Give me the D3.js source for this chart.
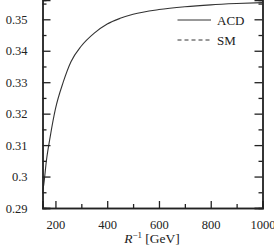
<!DOCTYPE html>
<html>
<head>
<meta charset="utf-8">
<title>ACD vs SM</title>
<script src="https://cdn.jsdelivr.net/npm/d3@7/dist/d3.min.js"></script>
<style type="text/css">
html, body { margin: 0; padding: 0; background: #fff; }
svg { display: block; font-family: "Liberation Serif", "DejaVu Serif", serif; }
</style>
</head>
<body>
<script type="text/javascript">
// data
var rInv = [150, 155, 165, 180, 200, 230, 260, 300, 350, 400, 450, 500, 600, 700, 800, 900, 1000];
var acd  = [0.2950, 0.2975, 0.3050, 0.3128, 0.3215, 0.3300, 0.3365, 0.3415, 0.3456, 0.3485, 0.3503, 0.3516, 0.3531, 0.3540, 0.3546, 0.3550, 0.3553];
var smValue = 0.3585;	// SM line sits above the visible frame
var xTicks = [200, 400, 600, 800, 1000];
var yTicks = [0.29, 0.30, 0.31, 0.32, 0.33, 0.34, 0.35];
var seriesNames = ["ACD", "SM"];

var width = 274, height = 248;
var mLeft = 42.5, mRight = 262.5, mTop = 0, mBottom = 208;

var svg = d3.select("body").append("svg")
	.attr("width", width)
	.attr("height", height);

var x = d3.scaleLinear().domain([150, 1000]).range([mLeft, mRight]);
var y = d3.scaleLinear().domain([0.29, 0.29 + 208 / 3145]).range([mBottom, mTop]);

svg.append("clipPath").attr("id", "plot")
	.append("rect").attr("x", mLeft).attr("y", mTop)
	.attr("width", mRight - mLeft).attr("height", mBottom - mTop);

var g = svg.append("g").attr("clip-path", "url(#plot)");

var line = d3.line()
	.x(function(d, i){ return x(rInv[i]); })
	.y(function(d){ return y(d); })
	.curve(d3.curveMonotoneX);

g.append("path")
	.datum(acd)
	.attr("d", line)
	.attr("fill", "none")
	.attr("stroke", "#333")
	.attr("stroke-width", 1.1);

// SM reference line (dashed)
g.append("line")
	.attr("x1", x(150)).attr("x2", x(1000))
	.attr("y1", y(smValue)).attr("y2", y(smValue))
	.attr("stroke", "#333")
	.attr("stroke-dasharray", "4,3");

// axes: ticks point inward
var minorY = [0.295, 0.305, 0.315, 0.325, 0.335, 0.345, 0.355];
var minorX = [300, 500, 700, 900];

svg.append("g")
	.attr("transform", "translate(" + mLeft + ",0)")
	.call(d3.axisLeft(y).tickValues(yTicks).tickSize(-8).tickPadding(15)
		.tickFormat(function(d){ return d3.format(".2~f")(d); }));
svg.append("g")
	.attr("transform", "translate(" + mLeft + ",0)")
	.call(d3.axisLeft(y).tickValues(minorY).tickSize(-4).tickFormat(""));

svg.append("g")
	.attr("transform", "translate(" + mRight + ",0)")
	.call(d3.axisRight(y).tickValues(yTicks).tickSize(-8).tickFormat(""));
svg.append("g")
	.attr("transform", "translate(" + mRight + ",0)")
	.call(d3.axisRight(y).tickValues(minorY).tickSize(-4).tickFormat(""));

svg.append("g")
	.attr("transform", "translate(0," + mBottom + ")")
	.call(d3.axisBottom(x).tickValues(xTicks).tickSize(-7).tickPadding(12)
		.tickFormat(d3.format("d")));
svg.append("g")
	.attr("transform", "translate(0," + mBottom + ")")
	.call(d3.axisBottom(x).tickValues(minorX).tickSize(-4).tickFormat(""));

svg.selectAll(".domain").attr("stroke", "#222").attr("stroke-width", 1.4);
svg.selectAll(".tick line").attr("stroke", "#222").attr("stroke-width", 1.3);
svg.selectAll(".tick text").attr("font-size", 12.5).attr("fill", "#222")
	.attr("font-family", "Liberation Serif, serif");

// x axis label
var xl = svg.append("text")
	.attr("x", 152).attr("y", 243)
	.attr("text-anchor", "middle")
	.attr("font-size", 13.5)
	.attr("fill", "#222");
xl.append("tspan").attr("font-style", "italic").text("R");
xl.append("tspan").attr("font-size", 9).attr("dy", -5).text("\u22121");
xl.append("tspan").attr("dy", 5).text(" [GeV]");

// legend
var legend = svg.append("g");
seriesNames.forEach(function(name, i){
	var ly = 20 + i * 20;
	legend.append("line")
		.attr("x1", 177.5).attr("x2", 211)
		.attr("y1", ly).attr("y2", ly)
		.attr("stroke", "#333")
		.attr("stroke-width", 1)
		.attr("stroke-dasharray", i == 1 ? "4,3" : null);
	legend.append("text")
		.attr("x", 217).attr("y", ly + 4.5)
		.attr("font-size", 13)
		.attr("fill", "#222")
		.text(name);
});
</script>
</body>
</html>
